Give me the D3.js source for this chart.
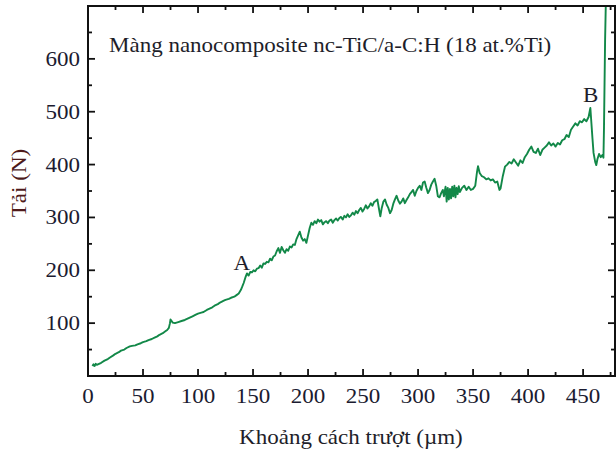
<!DOCTYPE html>
<html>
<head>
<meta charset="utf-8">
<script src="https://cdn.jsdelivr.net/npm/d3@7"></script>
<style>
  html, body { margin: 0; padding: 0; background: #fff; }
  svg { display: block; font-family: "Liberation Serif", "Times New Roman", serif; }
</style>
</head>
<body>
<svg id="chart" width="616" height="451"></svg>
<script>
// Scratch test: load (N) versus sliding distance (µm)
const distance = [4, 5, 6, 7, 8, 10, 12, 15, 18, 20, 23, 25, 28, 30, 33, 35, 38, 40, 43, 45, 48, 50, 53, 55, 58, 60, 63, 65, 68, 70,
  72, 73.5, 74.5, 75, 76, 77, 79, 82, 85, 88, 90, 93, 95, 98, 100, 103, 105, 108, 110, 113, 115, 118, 120, 123, 125, 128, 130, 133,
  135, 137, 139,
  140, 141.5, 143, 144.5, 146, 147.5, 149, 150.5, 152, 153.5, 155, 156.5, 158, 159.5, 161, 162.5, 164, 165.5, 167, 168.5,
  170, 171.5, 173, 174.5, 176, 177.5, 179, 180.5, 182, 183.5, 185, 186.5, 188, 189.5, 191, 192.5, 194, 195.5, 197, 198.5,
  200, 201.5, 203, 204.5, 206, 207.5, 209, 210.5, 212, 213.5, 215, 216.5, 218, 219.5, 221, 222.5, 224, 225.5, 227, 228.5,
  230, 231.5, 233, 234.5, 236, 237.5, 239, 240.5, 242, 243.5, 245, 246.5, 248, 249.5, 251, 252.5, 254, 255.5, 257, 258.5,
  260, 261.5, 263, 264.5, 265.7, 267, 268.5, 270, 271.5, 273, 274.5, 276, 277.5, 279, 280.5, 282, 283.5, 285, 286.5, 288,
  289.5, 291, 292.5, 294, 295.5, 297, 298.5, 300, 301.5, 303, 304.5, 306, 307.5, 309, 310.5, 312, 313.5, 315, 316.5, 318,
  319.5, 321, 322.5, 323.5, 325, 326, 327, 328, 329, 330, 331, 332, 333, 334, 335, 336, 337, 338, 340, 342, 344, 346, 348, 350,
  352, 353.5, 354.5, 356, 358, 360, 362, 364, 366, 368, 370, 372, 374, 375, 377, 379, 381, 383, 385, 387, 389, 391, 393, 395,
  397, 399, 401, 403, 405, 407, 409, 411, 413, 415, 417, 419, 421, 423, 425, 427, 429, 431, 433, 435, 437, 439, 441, 443, 445,
  447, 449, 451, 453, 455, 456.6, 457.5, 458.5, 459.5, 461, 462, 463, 464.5, 466, 467.5, 468.5, 469, 470, 470.8];
const load = [19, 22, 19, 23, 21, 23, 25, 29, 32, 35, 39, 42, 45, 48, 50, 53, 56, 57, 58, 60, 62, 64, 66, 68, 70, 72, 75, 78, 81, 84,
  87, 91, 100, 107, 104, 101, 100, 102, 104, 106, 108, 111, 113, 116, 118, 120, 121, 125, 127, 130, 133, 136, 139, 142, 144, 146, 148, 150,
  153, 156, 163,
  168, 176, 186, 194, 190, 197, 196, 200, 198, 203, 204, 209, 205, 213, 212, 216, 215, 222, 219, 226,
  228, 236, 242, 233, 244, 238, 233, 240, 237, 245, 243, 249, 248, 259, 266, 273, 262, 256, 259, 252,
  266, 280, 290, 286, 293, 289, 296, 292, 295, 287, 291, 293, 289, 294, 296, 290, 295, 298, 294, 299,
  301, 296, 303, 300, 306, 301, 304, 309, 305, 312, 308, 314, 318, 311, 316, 323, 317, 321, 327, 322,
  329, 331, 334, 316, 302, 318, 330, 334, 324, 318, 308, 314, 326, 334, 341, 332, 326, 330, 336, 327,
  333, 338, 344, 348, 352, 341, 350, 356, 360, 352, 366, 368, 356, 346, 352, 362, 368, 373, 360, 340,
  338, 346, 352, 340, 358, 330, 356, 334, 354, 336, 358, 340, 360, 338, 356, 344, 359, 348, 356, 360, 352, 358, 352, 354,
  360, 385, 397, 384, 378, 376, 372, 374, 370, 372, 366, 368, 352, 355, 378, 396, 400, 405, 402, 410, 404, 398, 408, 403,
  414, 420, 428, 434, 424, 422, 430, 418, 428, 432, 436, 442, 436, 440, 434, 441, 438, 446, 448, 456, 452, 466, 472, 478, 474,
  482, 480, 486, 482, 490, 507, 480, 450, 422, 405, 399, 410, 420, 414, 418, 413, 470, 636, 720];

const xTicks = [0, 50, 100, 150, 200, 250, 300, 350, 400, 450];
const yTicks = [100, 200, 300, 400, 500, 600];
const filmLabel = "Màng nanocomposite nc-TiC/a-C:H (18 at.%Ti)";
const xTitle = "Khoảng cách trượt (µm)";
const yTitle = "Tải (N)";
const pointLabels = [{ t: "A", x: 138, y: 200 }, { t: "B", x: 455, y: 518 }];

const svg = d3.select("#chart");
const L = 88, R = 615, T = 6, B = 376;
const WIDEN = 1.15; // horizontal stretch applied to text glyphs

const x = d3.scaleLinear().domain([0, 479]).range([L, R]);
const y = d3.scaleLinear().domain([0, 700]).range([B, T]);

svg.append("defs").append("clipPath").attr("id", "plotclip")
  .append("rect").attr("x", L).attr("y", T).attr("width", R - L).attr("height", B - T);

const series = distance.map((d, i) => [d, load[i]]);
svg.append("path")
  .datum(series)
  .attr("clip-path", "url(#plotclip)")
  .attr("fill", "none")
  .attr("stroke", "#128848")
  .attr("stroke-width", 1.9)
  .attr("stroke-linejoin", "round")
  .attr("d", d3.line().x(d => x(d[0])).y(d => y(d[1])));

// Frame with inward major and minor ticks on all four sides
const xMinor = d3.range(25, 479, 50);
const yMinor = d3.range(50, 700, 100);
const tickColor = "#111";
const axisG = svg.append("g");

function ticksAlong(vals, len, side) {
  vals.forEach(v => {
    if (side === "bottom") axisG.append("line").attr("x1", x(v)).attr("x2", x(v)).attr("y1", B).attr("y2", B - len);
    if (side === "top") axisG.append("line").attr("x1", x(v)).attr("x2", x(v)).attr("y1", T).attr("y2", T + len);
    if (side === "left") axisG.append("line").attr("x1", L).attr("x2", L + len).attr("y1", y(v)).attr("y2", y(v));
    if (side === "right") axisG.append("line").attr("x1", R).attr("x2", R - len).attr("y1", y(v)).attr("y2", y(v));
  });
}
const xMajorIn = xTicks.filter(v => v > 0);
ticksAlong(xMajorIn, 7, "bottom"); ticksAlong(xMinor, 4, "bottom");
ticksAlong(xMajorIn, 7, "top"); ticksAlong(xMinor, 4, "top");
ticksAlong(yTicks, 7, "left"); ticksAlong(yMinor, 4, "left");
ticksAlong(yTicks, 7, "right"); ticksAlong(yMinor, 4, "right");
axisG.selectAll("line").attr("stroke", tickColor).attr("stroke-width", 1.8);

axisG.append("rect").attr("x", L).attr("y", T).attr("width", R - L).attr("height", B - T)
  .attr("fill", "none").attr("stroke", tickColor).attr("stroke-width", 2);

// Places a text at (px, py), stretched horizontally
function label(g, px, py, txt, anchor, size, color) {
  return g.append("text")
    .attr("transform", `translate(${px},${py}) scale(${WIDEN},1)`)
    .attr("text-anchor", anchor).attr("font-size", size).attr("fill", color)
    .text(txt);
}

// Tick labels
const tickG = svg.append("g");
xTicks.forEach(d => label(tickG, x(d), 403, d, "middle", 20, "#1b1b30"));
yTicks.forEach(d => label(tickG, 80, y(d) + 7, d, "end", 20, "#1b1b30"));

// Axis titles
label(svg, x(239), 444, xTitle, "middle", 20, "#1e1e2a");
svg.append("text").attr("transform", "translate(26,183) rotate(-90) scale(1.1,1)")
  .attr("text-anchor", "middle").attr("font-size", 21).attr("fill", "#4e1a1a").text(yTitle);

// Annotations
label(svg, 109, 52, filmLabel, "start", 20, "#1e1e2a");
pointLabels.forEach(d => label(svg, x(d.x) + 2, y(d.y), d.t, "middle", 20, "#1e1e2a"));
</script>
</body>
</html>
